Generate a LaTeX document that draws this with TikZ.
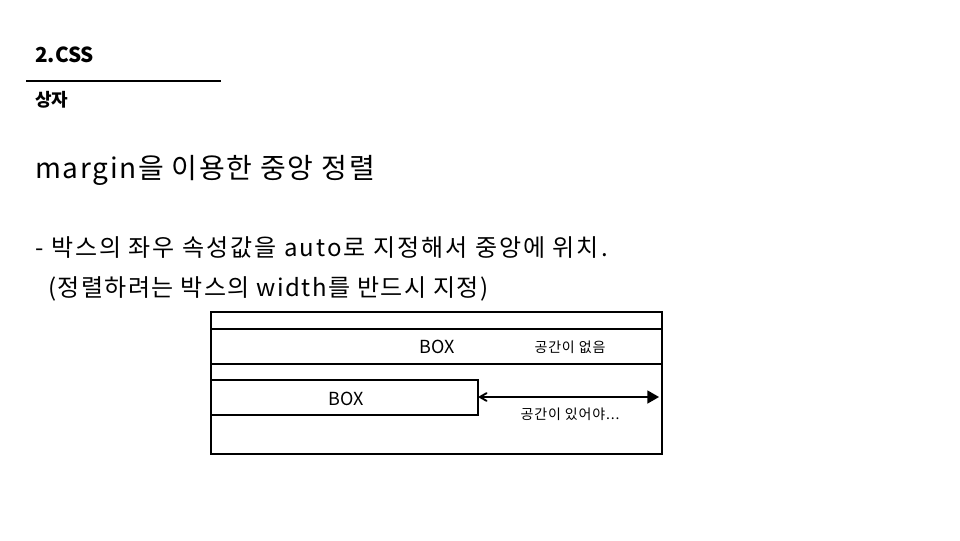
\documentclass[tikz,border=0pt]{standalone}
\usepackage{fontspec}
\setmainfont{Noto Sans CJK KR}
\newfontfamily\widefont[LetterSpace=6]{Noto Sans CJK KR}
\newfontfamily\widerfont[LetterSpace=8.5]{Noto Sans CJK KR}
\usepackage{tikz}
\usetikzlibrary{arrows}

\begin{document}
\begin{tikzpicture}[x=0.75pt, y=-0.75pt,
  txt/.style={anchor=base west, inner sep=0pt},
  small/.style={inner sep=0pt, font=\widefont\fontsize{10.5pt}{12pt}\selectfont}]
\useasboundingbox (0,0) rectangle (960,540);

% heading
\node[txt, font=\fontsize{15.5pt}{18pt}\selectfont\bfseries] (title) at (35,62) {2.CSS};
\draw[line width=1.2pt] (26,81) -- (221,81);
\node[txt, font=\fontsize{13.5pt}{16pt}\selectfont\bfseries] (sub) at (35,106) {상자};

% text
\node[txt, font=\widefont\fontsize{21pt}{25pt}\selectfont] (head) at (35,178) {margin을 이용한 중앙 정렬};
\node[txt, font=\widerfont\fontsize{18pt}{22pt}\selectfont] (line1) at (35,256) {- 박스의 좌우 속성값을 auto로 지정해서 중앙에 위치.};
\node[txt, font=\widefont\fontsize{18pt}{22pt}\selectfont] (line2) at (48,296) {(정렬하려는 박스의 width를 반드시 지정)};

% boxes
\draw[line width=2pt] (211,312) rectangle (662,454);
\draw[line width=0.8pt] (211,329) -- (662,329);
\draw[line width=0.8pt] (211,364) -- (662,364);
\draw[line width=0.8pt] (211,380) rectangle (478,415);
\coordinate (gapend) at (659,397);
\coordinate (gapstart) at (478,397);

\node[inner sep=0pt, font=\fontsize{13.5pt}{16pt}\selectfont] (box1) at (437,347) {BOX};
\node[small] (none) at (570,347) {공간이 없음};
\node[inner sep=0pt, font=\fontsize{13.5pt}{16pt}\selectfont] (box2) at (346,399) {BOX};
\node[small] (need) at (570,414) {공간이 있어야...};

\draw[line width=1.4pt, angle 60-triangle 60] (gapstart) -- (gapend);
\end{tikzpicture}
\end{document}
